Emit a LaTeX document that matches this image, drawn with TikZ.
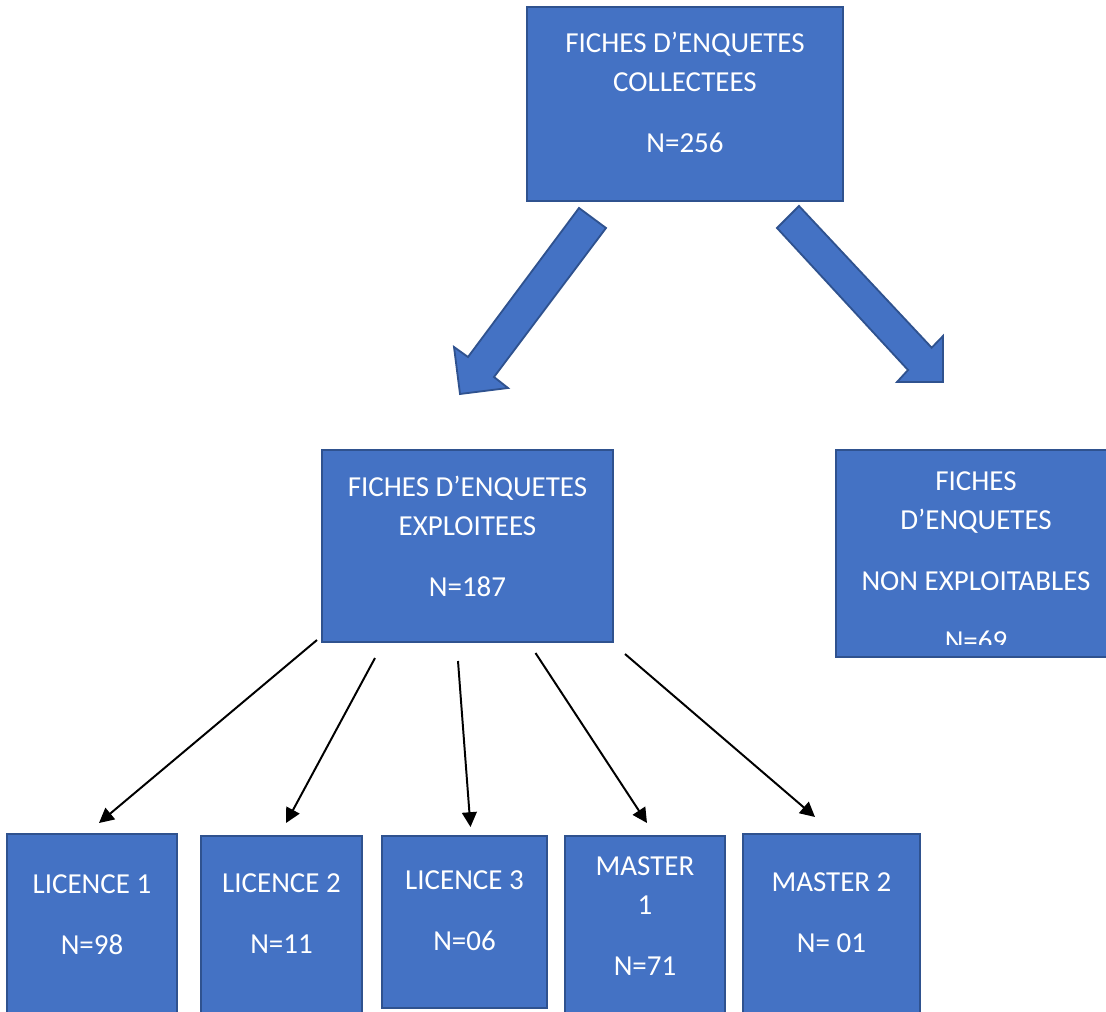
\documentclass[tikz,border=0pt]{standalone}
\usepackage{fontspec}
\setmainfont{Carlito}
\usetikzlibrary{arrows.meta,calc}
\definecolor{officeblue}{HTML}{4472C4}
\definecolor{officeedge}{HTML}{2F528F}
\newcommand{\pxu}{0.025cm}
\tikzset{
  fichebox/.style 2 args={
    rectangle, draw=officeedge, fill=officeblue, line width=1.2pt,
    minimum width=#1*\pxu, minimum height=#2*\pxu, inner sep=0pt
  },
  fichetext/.style={
    text=white, font=\fontsize{20.6}{27.7}\selectfont,
    align=center, anchor=north, inner sep=0pt
  },
  bigarrow/.style={
    fill=officeblue, draw=officeedge, line width=1.3pt, line join=miter
  },
  countarrow/.style={
    -{Triangle[length=10.5pt,width=10.5pt]}, line width=1.4pt, color=black
  },
}

\begin{document}
\begin{tikzpicture}[x=\pxu, y=-\pxu]
  \useasboundingbox (0,0) rectangle (1106,1012);
  \clip (0,0) rectangle (1106,1012);

  % ── Collected ────────────────
  \node[fichebox={316}{194}] (collect) at (685,104) {};
  \node[fichetext] (collect-txt) at ($(collect.north)+(0,26)$)
    {FICHES D’ENQUETES\\COLLECTEES\\[15.6pt]N=256};

  % ── Split ────────────────────
  \draw[bigarrow] (579,208) -- (606,228) -- (494,377) -- (508,388)
    -- (460,394) -- (454,347) -- (468,357) -- cycle;
  \draw[bigarrow] (799,206) -- (931.7,347.7) -- (943,336) -- (943,382)
    -- (897,382) -- (908,370) -- (777,228) -- cycle;

  % ── Exploited / not ──────────
  \node[fichebox={291}{192}] (exploit) at (467.5,546) {};
  \node[fichetext] (exploit-txt) at ($(exploit.north)+(0,27)$)
    {FICHES D’ENQUETES\\EXPLOITEES\\[15.6pt]N=187};
  \node[fichebox={280}{207}] (nonexp) at (976,553.5) {};
  \begin{scope}
    \clip (836,450) rectangle (1106,644);
    \node[fichetext] (nonexp-txt) at ($(nonexp.north)+(0,22)$)
      {FICHES\\D’ENQUETES\\[15.6pt]NON EXPLOITABLES\\[15.6pt]N=69};
  \end{scope}

  % ── Levels ───────────────────
  \node[fichebox={170}{192}] (lic1) at (92,930) {};
  \node[fichebox={161}{192}] (lic2) at (281.5,932) {};
  \node[fichebox={165}{172}] (lic3) at (464.5,922) {};
  \node[fichebox={160}{192}] (mas1) at (645,932) {};
  \node[fichebox={177}{192}] (mas2) at (831.5,930) {};
  \node[fichetext] (lic1-txt) at ($(lic1.north)+(0,41)$) {LICENCE 1\\[15.6pt]N=98};
  \node[fichetext] (lic2-txt) at ($(lic2.north)+(0,38.5)$) {LICENCE 2\\[15.6pt]N=11};
  \node[fichetext] (lic3-txt) at ($(lic3.north)+(0,35.5)$) {LICENCE 3\\[15.6pt]N=06};
  \node[fichetext] (mas1-txt) at ($(mas1.north)+(0,21)$) {MASTER\\1\\[15.6pt]N=71};
  \node[fichetext] (mas2-txt) at ($(mas2.north)+(0,39)$) {MASTER 2\\[15.6pt]N= 01};

  % ── Arrows to levels ─────────
  \coordinate (s1) at (317,640);   \coordinate (e1) at (99,823);
  \coordinate (s2) at (375,658);   \coordinate (e2) at (286,823);
  \coordinate (s3) at (458,661);   \coordinate (e3) at (470.5,827);
  \coordinate (s4) at (535.5,653); \coordinate (e4) at (647,823);
  \coordinate (s5) at (625,654);   \coordinate (e5) at (815,817);
  \draw[countarrow] (s1) -- (e1);
  \draw[countarrow] (s2) -- (e2);
  \draw[countarrow] (s3) -- (e3);
  \draw[countarrow] (s4) -- (e4);
  \draw[countarrow] (s5) -- (e5);
\end{tikzpicture}
\end{document}
